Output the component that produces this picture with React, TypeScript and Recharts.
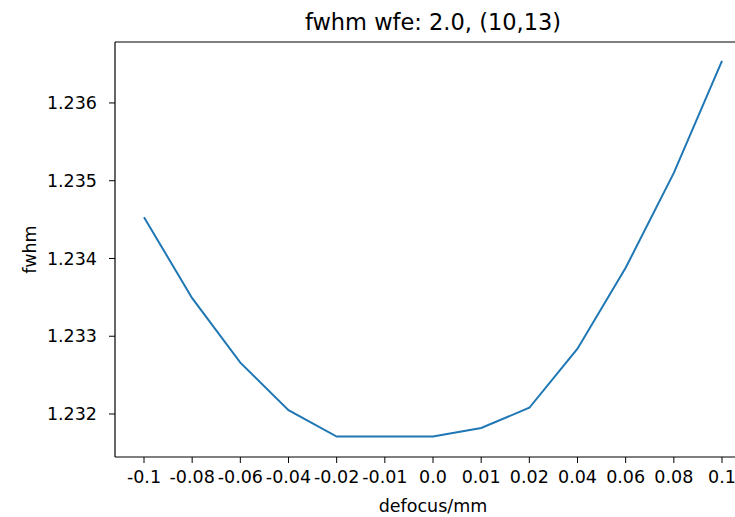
import { LineChart, Line, XAxis, YAxis, Label, CartesianGrid } from 'recharts';

const defocus = ['-0.1', '-0.08', '-0.06', '-0.04', '-0.02', '-0.01', '0.0', '0.01', '0.02', '0.04', '0.06', '0.08', '0.1'];
const fwhm = [1.23453, 1.23349, 1.23266, 1.23205, 1.23171, 1.23171, 1.23171, 1.23182, 1.23208, 1.23284, 1.23388, 1.23510, 1.23654];
const yTicks = [1.232, 1.233, 1.234, 1.235, 1.236];

const data = defocus.map((x, i) => ({ x, y: fwhm[i] }));

const FONT = '"DejaVu Sans", sans-serif';
const tickStyle = { fill: '#000', fontSize: 17.5, fontFamily: FONT };

const YLabel = (props: any) => {
  const { viewBox } = props;
  const cx = viewBox.x + 30;
  const cy = viewBox.y + viewBox.height / 2;
  return (
    <text
      x={cx}
      y={cy}
      transform={`rotate(-90, ${cx}, ${cy})`}
      textAnchor="middle"
      dominantBaseline="central"
      fontSize={17.5}
      fontFamily={FONT}
      fill="#000"
    >
      fwhm
    </text>
  );
};

export default function App() {
  return (
    <div style={{ position: 'absolute', left: 0, top: 0, width: 735, height: 517, overflow: 'hidden', background: '#fff' }}>
      <div
        style={{
          position: 'absolute',
          left: 0,
          top: 9,
          width: 866,
          textAlign: 'center',
          fontFamily: FONT,
          fontSize: 22.5,
          color: '#000',
        }}
      >
        fwhm wfe: 2.0, (10,13)
      </div>
      <LineChart width={760} height={517} data={data} margin={{ top: 42, right: 9, bottom: 0, left: 0 }}>
        {/* top frame edge */}
        <CartesianGrid
          vertical={false}
          stroke="#000"
          strokeWidth={1.2}
          horizontalCoordinatesGenerator={(p: any) => [p.offset.top]}
        />
        <XAxis
          dataKey="x"
          height={60}
          interval={0}
          padding={{ left: 29, right: 29 }}
          tickSize={6}
          tickMargin={8}
          tick={tickStyle}
          tickLine={{ stroke: '#000' }}
          axisLine={{ stroke: '#000', strokeWidth: 1.2 }}
        >
          <Label value="defocus/mm" position="insideBottom" offset={5} style={{ fill: '#000', fontSize: 17.5, fontFamily: FONT }} />
        </XAxis>
        <YAxis
          width={115}
          type="number"
          domain={[1.231447, 1.236784]}
          allowDataOverflow
          ticks={yTicks}
          tickFormatter={(v: number) => v.toFixed(3)}
          tickSize={6}
          tickMargin={12}
          tick={tickStyle}
          tickLine={{ stroke: '#000' }}
          axisLine={{ stroke: '#000', strokeWidth: 1.2 }}
        >
          <Label content={YLabel} />
        </YAxis>
        <Line
          type="linear"
          dataKey="y"
          stroke="#1f77b4"
          strokeWidth={2}
          dot={false}
          isAnimationActive={false}
        />
      </LineChart>
    </div>
  );
}
